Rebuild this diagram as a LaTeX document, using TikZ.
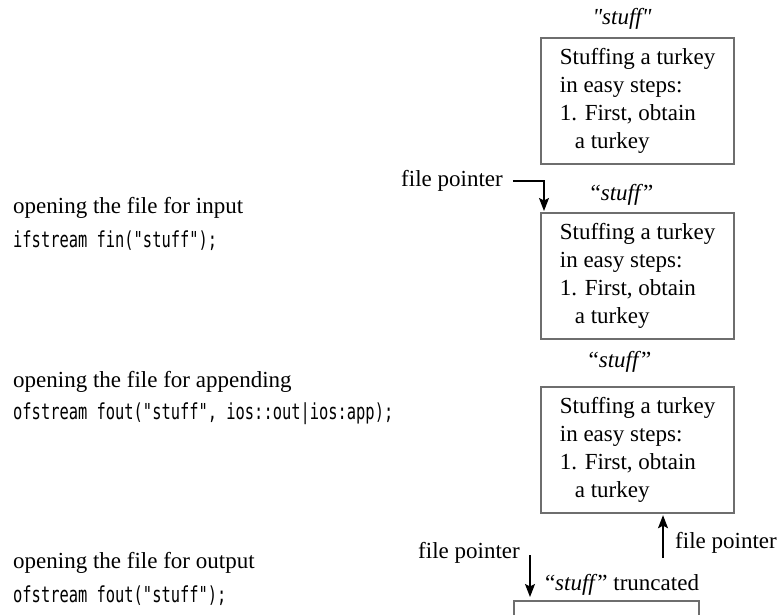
\documentclass[tikz,border=0pt]{standalone}
\usepackage{fontspec}
\setmainfont{Liberation Serif}
\newfontfamily\rawserif[Ligatures=ResetAll]{Liberation Serif}
\newfontfamily\codefont[FakeStretch=0.7]{DejaVu Sans Mono}
\usetikzlibrary{arrows.meta}
\definecolor{boxgray}{RGB}{110,110,110}
\begin{document}
\begin{tikzpicture}[x=1pt,y=-1pt,
  lbl/.style={font=\fontsize{23}{28}\selectfont, inner sep=0pt},
  codetxt/.style={font=\codefont\fontsize{22}{24}\selectfont, inner sep=0pt, anchor=west},
  filebox/.style={draw=boxgray, line width=2.2pt, minimum width=193pt, minimum height=126pt,
    anchor=north west, align=left, inner sep=0pt, font=\fontsize{23}{28}\selectfont},
  arr/.style={-{Stealth[length=13pt,width=10pt,inset=2.5pt]}, line width=1.3pt}]
\useasboundingbox (0,0) rectangle (783,614);
\clip (0,0) rectangle (783,614);

% left column
\node[lbl, anchor=west] (l1) at (13,208) {opening the file for input};
\node[codetxt] (c1) at (13,241) {ifstream fin("stuff");};
\node[lbl, anchor=west] (l2) at (13,382) {opening the file for appending};
\node[codetxt] (c2) at (13,414) {ofstream fout("stuff", ios::out|ios:app);};
\node[lbl, anchor=west] (l3) at (13,563) {opening the file for output};
\node[codetxt] (c3) at (13,596) {ofstream fout("stuff");};

% box 1
\node[lbl] (s1) at (622,19) {\rawserif\itshape "stuff"};
\node[filebox] (b1) at (540,37) {Stuffing a turkey\\in easy steps:\\1. First, obtain\\\hspace*{15pt}a turkey};

% box 2
\node[lbl] (fp2) at (452,181) {file pointer};
\node[lbl] (s2) at (622,195) {“\textit{stuff}”};
\node[filebox] (b2) at (540,212) {Stuffing a turkey\\in easy steps:\\1. First, obtain\\\hspace*{15pt}a turkey};
\draw[arr, shorten >=1pt] ([xshift=10pt]fp2.east) -| ([xshift=4pt]b2.north west);

% box 3
\node[lbl] (s3) at (620,362) {“\textit{stuff}”};
\node[filebox] (b3) at (540,386) {Stuffing a turkey\\in easy steps:\\1. First, obtain\\\hspace*{15pt}a turkey};
\node[lbl] (fp3) at (726,543) {file pointer};
\coordinate (a3) at (663,558);
\draw[arr, shorten >=1pt] (a3) -- (a3 |- b3.south);

% box 4
\node[lbl] (fp4) at (469,553) {file pointer};
\node[lbl] (s4) at (622,585) {“\textit{stuff}” truncated};
\node[draw=boxgray, line width=2.2pt, minimum width=185pt, minimum height=60pt, anchor=north west, inner sep=0pt] (b4) at (513,600) {};
\coordinate (a4) at (530,555);
\draw[arr, shorten >=3pt] (a4) -- (a4 |- b4.north);
\end{tikzpicture}
\end{document}
